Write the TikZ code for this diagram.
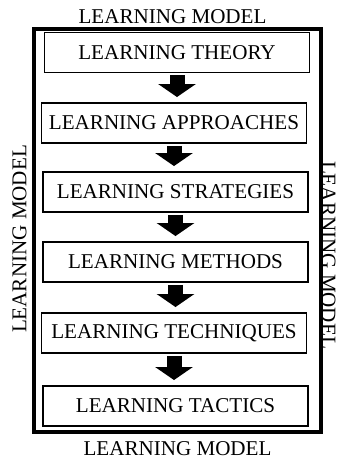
\documentclass[tikz,border=0pt]{standalone}
\usepackage{fontspec}
\setmainfont{Liberation Serif}
\usetikzlibrary{arrows.meta}
\begin{document}
\begin{tikzpicture}[x=0.02cm, y=-0.02cm,
    font=\fontsize{12}{14}\selectfont,
    box/.style={draw, line width=1.1pt, minimum width=5.3cm, minimum height=0.8cm, inner sep=0pt},
    flow/.style={line width=0.3cm, -{Triangle[width=0.74cm,length=0.26cm]},
      shorten <=0.04cm, shorten >=0.1cm}]
  \useasboundingbox (0,0) rectangle (336,459);
  % outer frame
  \draw[line width=0.08cm] (34,29.5) rectangle (321,432);
  % the steps, top to bottom
  \node[box] (Theory)     at (177,52.5)  {LEARNING THEORY};
  \node[box] (Approaches) at (174,123)   {LEARNING APPROACHES};
  \node[box] (Strategies) at (175.5,192) {LEARNING STRATEGIES};
  \node[box] (Methods)    at (175.5,262) {LEARNING METHODS};
  \node[box] (Techniques) at (174,333)   {LEARNING TECHNIQUES};
  \node[box] (Tactics)    at (175.5,406) {LEARNING TACTICS};
  \foreach \a/\b in {Theory/Approaches, Approaches/Strategies, Strategies/Methods,
                     Methods/Techniques, Techniques/Tactics}
    \draw[flow] (\a.south) -- (\a.south |- \b.north);
  % labels round the frame
  \node (Top)    at (172.5,17)  {LEARNING MODEL};
  \node (Bottom) at (177.5,448.5) {LEARNING MODEL};
  \node[rotate=90]  (Left)  at (19.5,239) {LEARNING MODEL};
  \node[rotate=-90, inner sep=0pt] (Right) at (328.5,255)  {LEARNING MODEL};
\end{tikzpicture}
\end{document}
